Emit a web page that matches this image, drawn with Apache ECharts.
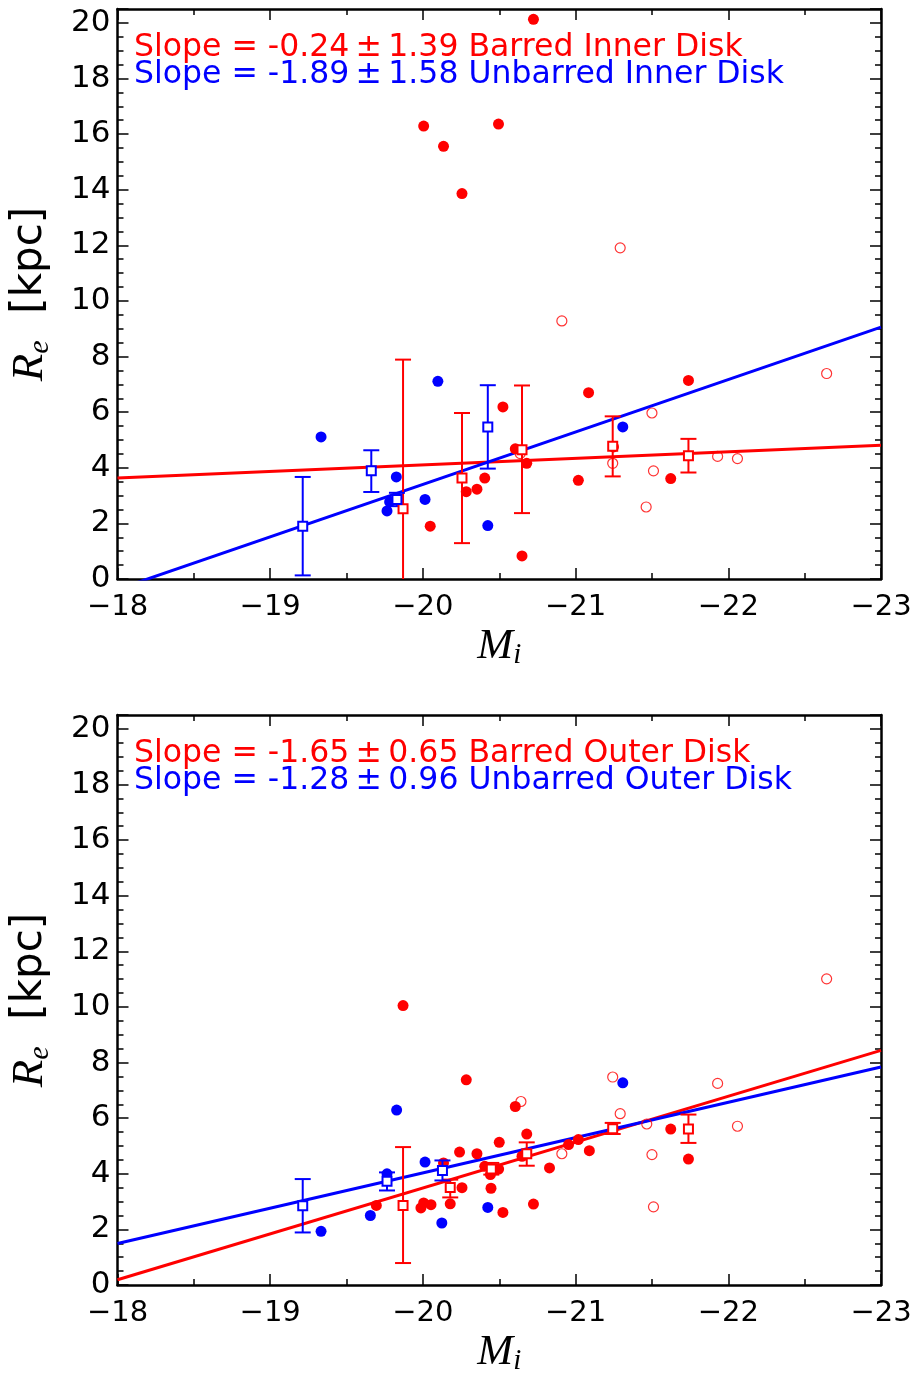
<!DOCTYPE html>
<html>
<head>
<meta charset="utf-8">
<script src="https://cdn.jsdelivr.net/npm/echarts@6/dist/echarts.min.js"></script>
<style>
html,body{margin:0;padding:0;background:#fff;}
#chart{width:923px;height:1381px;}
</style>
</head>
<body>
<div id="chart"></div>
<script>
// ---------- Data ----------
// Inner disk panel
const innerBarredFilled = [[-20.005,16.29],[-20.135,15.56],[-20.256,13.86],[-20.495,16.36],[-20.724,20.13],[-20.524,6.19],[-20.048,1.90],[-20.284,3.14],[-20.354,3.23],[-20.405,3.63],[-21.085,6.70],[-21.739,7.14],[-20.605,4.68],[-20.68,4.16],[-21.018,3.55],[-21.623,3.61],[-20.649,0.83],[-21.248,4.75]];
const innerBarredOpen = [[-21.292,11.91],[-20.91,9.28],[-22.644,7.39],[-21.5,5.97],[-21.243,4.16],[-21.51,3.89],[-21.93,4.41],[-22.06,4.33],[-21.462,2.59],[-20.637,4.51]];
const innerUnbarredFilled = [[-19.333,5.11],[-20.098,7.11],[-19.826,3.67],[-19.765,2.45],[-19.782,2.77],[-20.014,2.86],[-20.425,1.92],[-21.309,5.47]];
// bins: [x, y, low, high]
const innerUnbarredBins = [[-19.213,1.90,0.13,3.67],[-19.662,3.89,3.13,4.63],[-19.83,2.86,2.62,3.10],[-20.425,5.47,3.97,6.97]];
const innerBarredBins = [[-19.87,2.53,-2.83,7.89],[-20.256,3.63,1.29,5.97],[-20.649,4.65,2.37,6.96],[-21.243,4.77,3.69,5.85],[-21.739,4.43,3.83,5.04]];
const innerBarredFit = [[-18,3.63],[-23,4.81]];
const innerUnbarredFit = [[-18,-0.37],[-23,9.06]];

// Outer disk panel
const outerBarredFilled = [[-19.87,10.05],[-20.284,7.38],[-20.24,4.78],[-20.354,4.72],[-20.5,5.13],[-19.695,2.86],[-19.987,2.77],[-20.005,2.95],[-20.053,2.89],[-20.179,2.92],[-20.256,3.50],[-20.405,4.27],[-20.442,3.97],[-20.446,3.48],[-20.496,4.17],[-20.524,2.61],[-20.135,4.39],[-20.605,6.42],[-20.68,5.43],[-20.649,4.63],[-20.829,4.21],[-20.954,5.05],[-21.018,5.23],[-21.09,4.83],[-21.623,5.61],[-21.739,4.53],[-20.724,2.91]];
const outerBarredOpen = [[-22.644,11.01],[-21.243,7.48],[-21.93,7.25],[-20.642,6.60],[-21.292,6.16],[-21.466,5.79],[-22.06,5.71],[-20.91,4.72],[-21.5,4.69],[-21.51,2.81]];
const outerUnbarredFilled = [[-19.828,6.29],[-19.333,1.93],[-19.656,2.50],[-20.014,4.42],[-20.124,2.23],[-20.425,2.79],[-19.765,4.00],[-21.309,7.27]];
const outerUnbarredBins = [[-19.213,2.85,1.89,3.81],[-19.765,3.73,3.40,4.05],[-20.128,4.12,3.76,4.48]];
const outerBarredBins = [[-19.87,2.86,0.79,4.96],[-20.179,3.51,3.15,3.79],[-20.448,4.17,3.97,4.39],[-20.68,4.72,4.29,5.13],[-21.243,5.62,5.43,5.83],[-21.739,5.61,5.11,6.13]];
const outerBarredFit = [[-18,0.19],[-23,8.44]];
const outerUnbarredFit = [[-18,1.49],[-23,7.84]];

const xTicks = [-18,-19,-20,-21,-22,-23];
const yTicks = [0,2,4,6,8,10,12,14,16,18,20];

const annotations = [
  ['Slope = -0.24\u2009±\u20091.39 Barred Inner Disk', 'Slope = -1.89\u2009±\u20091.58 Unbarred Inner Disk'],
  ['Slope = -1.65\u2009±\u20090.65 Barred Outer Disk', 'Slope = -1.28\u2009±\u20090.96 Unbarred Outer Disk']
];

// ---------- Styling ----------
const RED = '#ff0000', BLUE = '#0000ff';
const FONT = 'DejaVu Sans';
const gridTops = [9, 715];

function xAxisDef(grid, top) {
  return {
    type: 'value', gridIndex: grid, position: top ? 'top' : 'bottom',
    min: -23, max: -18, inverse: true, interval: 1,
    axisLine: {show: true, onZero: false, lineStyle: {color: '#000', width: 2.5}},
    axisTick: {show: true, inside: true, length: 11, lineStyle: {color: '#000', width: 1.5}},
    minorTick: {show: true, splitNumber: 2, length: 6, lineStyle: {color: '#000', width: 1.5}},
    splitLine: {show: false}, minorSplitLine: {show: false},
    axisLabel: {
      show: !top, margin: 14, color: '#000', fontFamily: FONT, fontSize: 29,
      formatter: v => xTicks.indexOf(v) >= 0 ? '\u2212' + Math.abs(v) : ''
    },
    name: top ? '' : '{m|M}{s|i}',
    nameLocation: 'middle', nameGap: 44,
    nameTextStyle: {
      rich: {
        m: {fontFamily: 'Liberation Serif', fontStyle: 'italic', fontSize: 43, color: '#000'},
        s: {fontFamily: 'Liberation Serif', fontStyle: 'italic', fontSize: 29, color: '#000', padding: [18, 0, 0, 0]}
      }
    }
  };
}
function yAxisDef(grid, right) {
  return {
    type: 'value', gridIndex: grid, position: right ? 'right' : 'left',
    min: 0, max: 20.5, interval: 2,
    axisLine: {show: true, onZero: false, lineStyle: {color: '#000', width: 2.5}},
    axisTick: {show: true, inside: true, length: 11, lineStyle: {color: '#000', width: 1.5}},
    minorTick: {show: true, splitNumber: 4, length: 6, lineStyle: {color: '#000', width: 1.5}},
    splitLine: {show: false}, minorSplitLine: {show: false},
    axisLabel: {
      show: !right, margin: 7, color: '#000', fontFamily: FONT, fontSize: 31,
      showMaxLabel: false,
      formatter: v => yTicks.indexOf(v) >= 0 ? String(v) : ''
    },
    name: right ? '' : '{r|R}{s|e}{n|  [kpc]}',
    nameLocation: 'middle', nameGap: 62,
    nameTextStyle: {
      rich: {
        r: {fontFamily: 'Liberation Serif', fontStyle: 'italic', fontSize: 45, color: '#000'},
        s: {fontFamily: 'Liberation Serif', fontStyle: 'italic', fontSize: 30, color: '#000', padding: [20, 0, 0, 0]},
        n: {fontFamily: FONT, fontSize: 42, color: '#000'}
      }
    }
  };
}

function errRenderer(color) {
  return function (params, api) {
    const x = api.value(0), lo = api.value(2), hi = api.value(3);
    const pLo = api.coord([x, lo]), pHi = api.coord([x, hi]);
    const hw = 8;
    const style = {stroke: color, lineWidth: 2, fill: null};
    return {
      type: 'group',
      children: [
        {type: 'line', shape: {x1: pLo[0], y1: pLo[1], x2: pHi[0], y2: pHi[1]}, style: style},
        {type: 'line', shape: {x1: pHi[0] - hw, y1: pHi[1], x2: pHi[0] + hw, y2: pHi[1]}, style: style},
        {type: 'line', shape: {x1: pLo[0] - hw, y1: pLo[1], x2: pLo[0] + hw, y2: pLo[1]}, style: style}
      ]
    };
  };
}

function panelSeries(idx, d) {
  const ax = {xAxisIndex: idx * 2, yAxisIndex: idx * 2};
  return [
    Object.assign({type: 'line', data: d.barFit, showSymbol: false, symbol: 'none', lineStyle: {color: RED, width: 3}, clip: true, z: 2}, ax),
    Object.assign({type: 'line', data: d.unbarFit, showSymbol: false, symbol: 'none', lineStyle: {color: BLUE, width: 3}, clip: true, z: 2}, ax),
    Object.assign({type: 'scatter', data: d.barOpen, symbol: 'circle', symbolSize: 10,
      itemStyle: {color: 'rgba(0,0,0,0)', borderColor: RED, borderWidth: 1.2}, z: 3}, ax),
    Object.assign({type: 'scatter', data: d.barFilled, symbol: 'circle', symbolSize: 11,
      itemStyle: {color: RED, opacity: 1}, z: 3}, ax),
    Object.assign({type: 'scatter', data: d.unbarFilled, symbol: 'circle', symbolSize: 11,
      itemStyle: {color: BLUE, opacity: 1}, z: 3}, ax),
    Object.assign({type: 'custom', data: d.barBins, renderItem: errRenderer(RED), encode: {x: 0, y: 1}, clip: true, z: 4}, ax),
    Object.assign({type: 'custom', data: d.unbarBins, renderItem: errRenderer(BLUE), encode: {x: 0, y: 1}, clip: true, z: 4}, ax),
    Object.assign({type: 'scatter', data: d.barBins.map(b => [b[0], b[1]]), symbol: 'rect', symbolSize: 9,
      itemStyle: {color: '#fff', borderColor: RED, borderWidth: 2, opacity: 1}, z: 5}, ax),
    Object.assign({type: 'scatter', data: d.unbarBins.map(b => [b[0], b[1]]), symbol: 'rect', symbolSize: 9,
      itemStyle: {color: '#fff', borderColor: BLUE, borderWidth: 2, opacity: 1}, z: 5}, ax)
  ];
}

const panels = [
  {barFilled: innerBarredFilled, barOpen: innerBarredOpen, unbarFilled: innerUnbarredFilled,
   barBins: innerBarredBins, unbarBins: innerUnbarredBins, barFit: innerBarredFit, unbarFit: innerUnbarredFit},
  {barFilled: outerBarredFilled, barOpen: outerBarredOpen, unbarFilled: outerUnbarredFilled,
   barBins: outerBarredBins, unbarBins: outerUnbarredBins, barFit: outerBarredFit, unbarFit: outerUnbarredFit}
];

const graphics = [];
annotations.forEach((pair, i) => {
  graphics.push({type: 'text', left: 134, top: gridTops[i] + 23,
    style: {text: pair[0], fill: RED, font: '31.5px "DejaVu Sans"'}});
  graphics.push({type: 'text', left: 134, top: gridTops[i] + 50,
    style: {text: pair[1], fill: BLUE, font: '31.5px "DejaVu Sans"'}});
});

const option = {
  animation: false,
  backgroundColor: '#fff',
  grid: [
    {left: 117, top: gridTops[0], width: 764, height: 570, containLabel: false},
    {left: 117, top: gridTops[1], width: 764, height: 570, containLabel: false}
  ],
  xAxis: [xAxisDef(0, false), xAxisDef(0, true), xAxisDef(1, false), xAxisDef(1, true)],
  yAxis: [yAxisDef(0, false), yAxisDef(0, true), yAxisDef(1, false), yAxisDef(1, true)],
  series: [].concat(panelSeries(0, panels[0]), panelSeries(1, panels[1])),
  graphic: graphics
};

const chart = echarts.init(document.getElementById('chart'), null, {renderer: 'canvas'});
chart.setOption(option);
</script>
</body>
</html>
